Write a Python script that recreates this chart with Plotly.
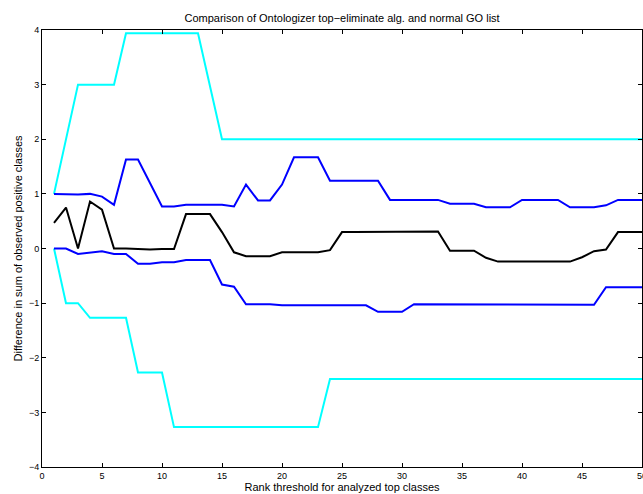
import plotly.graph_objects as go

x = list(range(1, 51))

cyan_upper = [1, 2, 3, 3, 3, 3, 3.94, 3.94, 3.94, 3.94, 3.94, 3.94, 3.94, 2.97, 2] + [2] * 35
cyan_lower = [0, -1, -1, -1.27, -1.27, -1.27, -1.27, -2.27, -2.27, -2.27] + [-3.27] * 13 + [-2.39] * 27
blue_upper = [1.0, 0.99, 0.99, 1.0, 0.95, 0.8, 1.63, 1.63, 1.2, 0.77,
              0.77, 0.8, 0.8, 0.8, 0.8, 0.77, 1.17, 0.88, 0.88, 1.17,
              1.67, 1.67, 1.67, 1.24, 1.24, 1.24, 1.24, 1.24, 0.89, 0.89,
              0.89, 0.89, 0.89, 0.82, 0.82, 0.82, 0.755, 0.755, 0.755, 0.89,
              0.89, 0.89, 0.89, 0.755, 0.755, 0.755, 0.79, 0.89, 0.89, 0.89]
blue_lower = [0, 0, -0.1, -0.08, -0.05, -0.1, -0.1, -0.28, -0.28, -0.25,
              -0.25, -0.21, -0.21, -0.21, -0.66, -0.7, -1.02, -1.02, -1.02, -1.04,
              -1.04, -1.04, -1.04, -1.04, -1.04, -1.04, -1.04, -1.16, -1.16, -1.16,
              -1.02, -1.02, -1.03, -1.03, -1.03, -1.03, -1.03, -1.03, -1.03, -1.03,
              -1.03, -1.03, -1.03, -1.03, -1.03, -1.03, -0.71, -0.71, -0.71, -0.71]
black_mean = [0.47, 0.75, 0.0, 0.86, 0.71, 0.0, 0.0, -0.005, -0.02, -0.01,
              -0.01, 0.63, 0.63, 0.63, 0.3, -0.07, -0.14, -0.14, -0.14, -0.07,
              -0.07, -0.07, -0.07, -0.03, 0.3, 0.3, 0.3, 0.31, 0.31, 0.31,
              0.31, 0.31, 0.31, -0.04, -0.04, -0.04, -0.17, -0.24, -0.24, -0.24,
              -0.24, -0.24, -0.24, -0.24, -0.16, -0.05, -0.02, 0.3, 0.3, 0.3]

x_ticks = [0, 5, 10, 15, 20, 25, 30, 35, 40, 45, 50]
y_ticks = [-4, -3, -2, -1, 0, 1, 2, 3, 4]

fig = go.Figure()
series = [
    (cyan_upper, "#00FFFF"),
    (cyan_lower, "#00FFFF"),
    (blue_upper, "#0000FF"),
    (blue_lower, "#0000FF"),
    (black_mean, "#000000"),
]
for ys, col in series:
    fig.add_trace(go.Scatter(x=x, y=ys, mode="lines",
                             line=dict(color=col, width=2), showlegend=False,
                             hoverinfo="skip"))

font_family = "Liberation Sans, Arial, sans-serif"
axis_common = dict(showgrid=False, zeroline=False, showline=True, linecolor="black",
                   linewidth=1, mirror="ticks", ticks="inside", ticklen=4,
                   tickcolor="black", ticklabeloverflow="allow",
                   tickfont=dict(size=9, color="black", family=font_family))

fig.update_layout(
    width=643, height=494,
    margin=dict(l=42, r=1, t=30, b=27),
    paper_bgcolor="white", plot_bgcolor="white",
    font=dict(family=font_family, color="black"),
    title=dict(text="Comparison of Ontologizer top\u2212eliminate alg. and normal GO list",
               x=0.532, xanchor="center", y=0.963, yanchor="middle",
               font=dict(size=11, color="black", family=font_family)),
    xaxis=dict(range=[0, 50], tickvals=x_ticks, **axis_common,
               title=dict(text="Rank threshold for analyzed top classes", standoff=2,
                          font=dict(size=11, color="black", family=font_family))),
    yaxis=dict(range=[-4, 4], tickvals=y_ticks, **axis_common,
               title=dict(text="Difference in sum of observed positive classes", standoff=4,
                          font=dict(size=11, color="black", family=font_family))),
)
fig.update_xaxes(automargin=False)
fig.update_yaxes(automargin=False)

fig.write_html("out.html", config={"displayModeBar": False},
               post_script="document.body.style.margin='0px';document.body.style.overflow='hidden';")
